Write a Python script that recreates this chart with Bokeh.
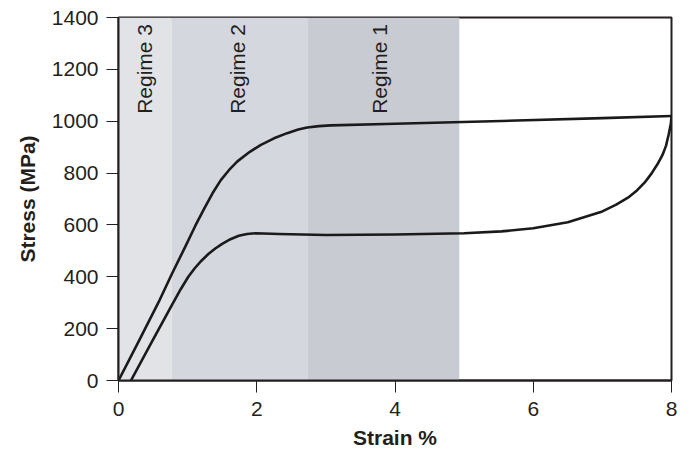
from bokeh.plotting import figure
from bokeh.models import Range1d, FixedTicker
from bokeh.embed import file_html
from bokeh.resources import INLINE
from bokeh.core.properties import value

# Regime shading (strain %)
regime_names = ["Regime 3", "Regime 2", "Regime 1"]
regime_left = [0.0, 0.77, 2.74]
regime_right = [0.77, 2.74, 4.93]
regime_colors = ["#e2e3e7", "#d4d7de", "#c8cbd2"]
regime_label_x = [0.38, 1.72, 3.77]

# Loading curve (upper)
upper_strain = [0.0, 0.29, 0.58, 0.77, 0.97, 1.11, 1.24, 1.36, 1.48, 1.6, 1.72, 1.9, 2.06, 2.25, 2.44, 2.6, 2.73, 2.9, 3.07, 4.0, 5.54, 7.0, 8.0]
upper_stress = [0, 150, 302, 410, 518, 596, 663, 722, 773, 812, 845, 882, 909, 934, 954, 968, 976, 981, 984, 990, 1001, 1012, 1020]

# Reverse curve (lower)
lower_strain = [0.18, 0.48, 0.77, 0.9, 1.01, 1.1, 1.2, 1.3, 1.4, 1.5, 1.62, 1.74, 1.86, 1.98, 2.32, 3.0, 4.0, 5.0, 5.54, 6.0, 6.5, 7.0, 7.2, 7.37, 7.5, 7.61, 7.71, 7.81, 7.87, 7.92, 7.96, 7.99, 8.0]
lower_stress = [0, 148, 290, 352, 400, 432, 462, 488, 509, 527, 545, 558, 565, 568, 565, 561, 563, 568, 575, 587, 610, 652, 678, 705, 733, 763, 798, 840, 870, 905, 950, 990, 1017]

x_ticks = [0, 2, 4, 6, 8]
y_ticks = [0, 200, 400, 600, 800, 1000, 1200, 1400]

p = figure(width=680, height=451, output_backend="svg", toolbar_location=None,
           x_range=Range1d(0, 8), y_range=Range1d(0, 1400),
           min_border_left=118, min_border_right=9, min_border_top=17, min_border_bottom=68)

p.quad(left=regime_left, right=regime_right, bottom=0, top=1400,
       fill_color=regime_colors, line_color=None)

p.text(x=regime_label_x, y=[1375] * 3, text=regime_names, angle=1.5708,
       text_align="right", text_baseline="middle", text_font=value("Liberation Sans"),
       text_font_size="21px", text_color="#231f20")

p.line(upper_strain, upper_stress, line_color="#1a1a1a", line_width=2.6, line_join="round")
p.line(lower_strain, lower_stress, line_color="#1a1a1a", line_width=2.6, line_join="round")

p.xgrid.visible = False
p.ygrid.visible = False
p.outline_line_color = "#231f20"
p.outline_line_width = 2
p.background_fill_color = "white"
p.border_fill_color = "white"

for ax, ticks in ((p.xaxis, x_ticks), (p.yaxis, y_ticks)):
    ax.ticker = FixedTicker(ticks=ticks)
    ax.minor_tick_line_color = None
    ax.major_tick_out = 12
    ax.major_tick_in = 0
    ax.major_tick_line_color = "#231f20"
    ax.major_tick_line_width = 1
    ax.axis_line_color = "#231f20"
    ax.axis_line_width = 2
    ax.major_label_text_font = "Liberation Sans"
    ax.major_label_text_font_size = "21px"
    ax.major_label_text_color = "#231f20"
    ax.axis_label_text_font = "Liberation Sans"
    ax.axis_label_text_font_size = "21px"
    ax.axis_label_text_font_style = "bold"
    ax.axis_label_text_color = "#231f20"

p.xaxis.axis_label = "Strain %"
p.yaxis.axis_label = "Stress (MPa)"
p.xaxis.major_label_standoff = 9
p.yaxis.major_label_standoff = 8
p.xaxis.axis_label_standoff = 7
p.yaxis.axis_label_standoff = 10

open("out.html", "w").write(file_html(p, INLINE))
